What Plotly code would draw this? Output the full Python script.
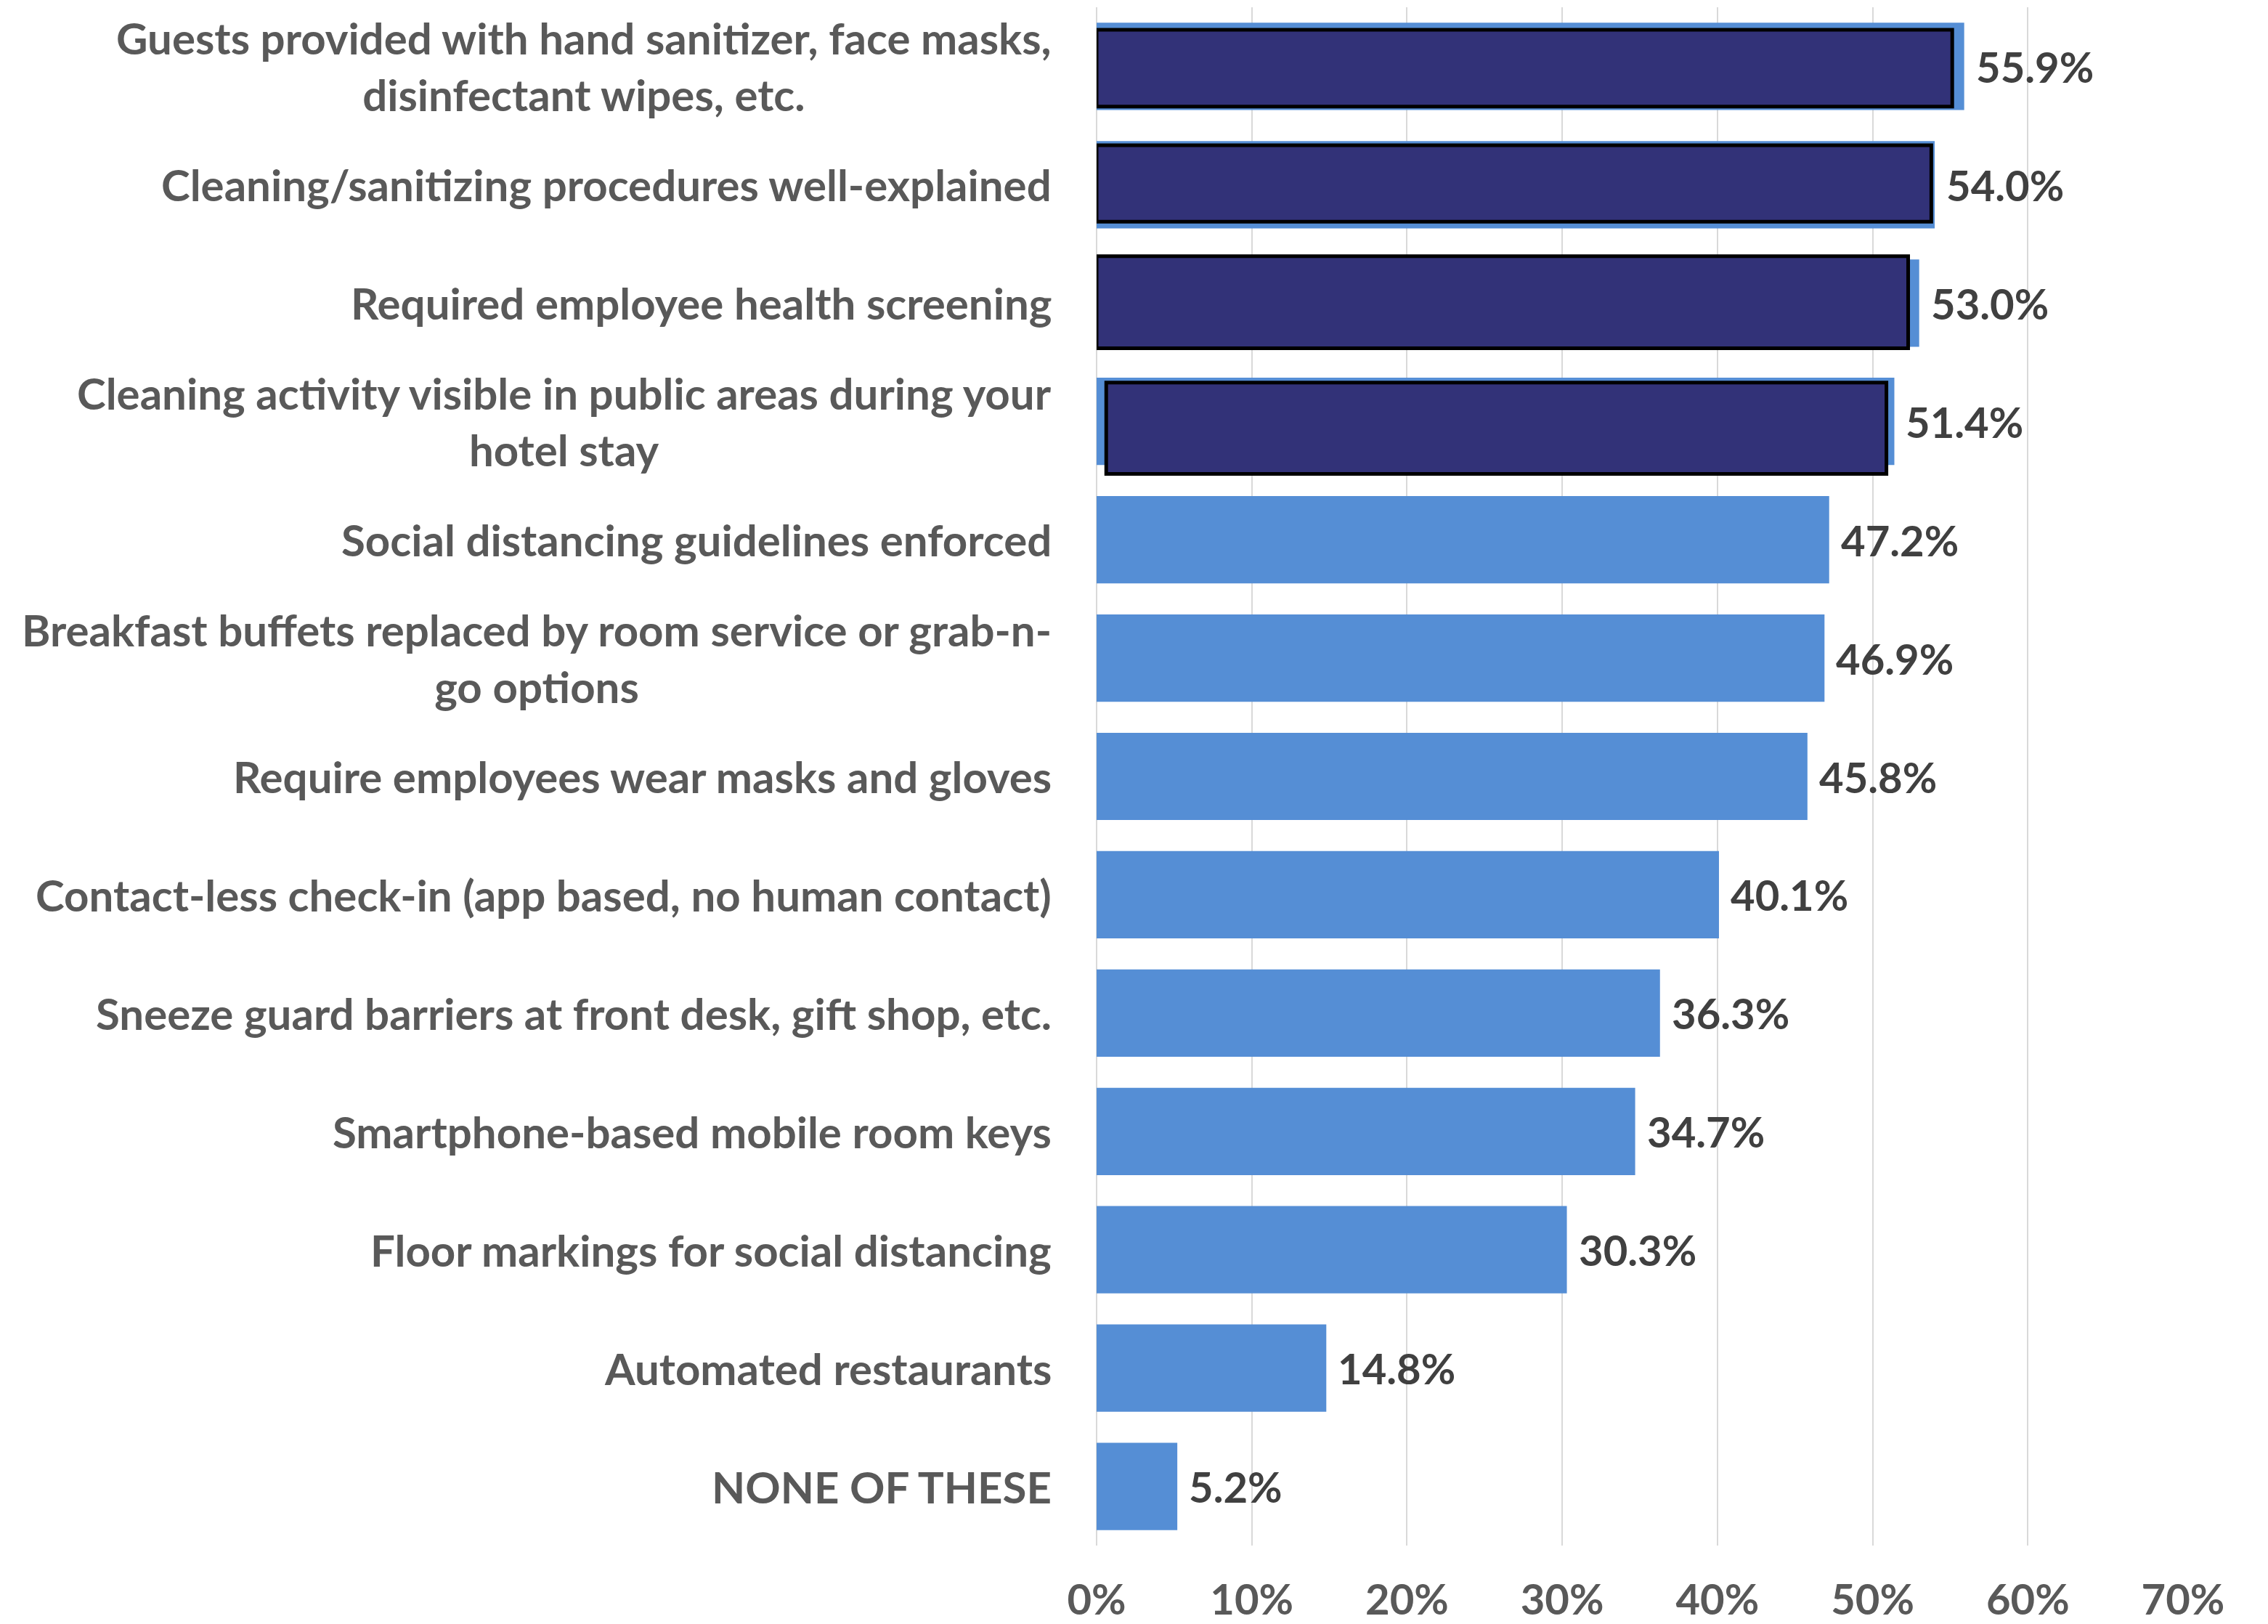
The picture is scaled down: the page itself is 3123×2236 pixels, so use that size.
import plotly.graph_objects as go

# Survey items, top to bottom
categories = [
    "Guests provided with hand sanitizer, face masks,<br>disinfectant wipes, etc.",
    "Cleaning/sanitizing procedures well-explained",
    "Required employee health screening",
    "Cleaning activity visible in public areas during your<br>hotel stay",
    "Social distancing guidelines enforced",
    "Breakfast buffets replaced by room service or grab-n-<br>go options",
    "Require employees wear masks and gloves",
    "Contact-less check-in (app based, no human contact)",
    "Sneeze guard barriers at front desk, gift shop, etc.",
    "Smartphone-based mobile room keys",
    "Floor markings for social distancing",
    "Automated restaurants",
    "NONE OF THESE",
]
values = [55.9, 54.0, 53.0, 51.4, 47.2, 46.9, 45.8, 40.1, 36.3, 34.7, 30.3, 14.8, 5.2]

# Highlight boxes drawn over the top four items (start/end in percent)
highlight_categories = categories[:4]
highlight_start = [0.0, 0.0, 0.0, 0.62]
highlight_end = [55.13, 53.78, 52.29, 50.89]

x_ticks = [0, 10, 20, 30, 40, 50, 60, 70]
x_tick_labels = ["0%", "10%", "20%", "30%", "40%", "50%", "60%", "70%"]

# Styling
BAR_BLUE = "#558ED5"
NAVY = "#323278"
LABEL_GREY = "#595959"
VALUE_GREY = "#404040"
GRID = "#D9D9D9"
FONT = "Lato"
LABEL_SIZE = 60
VALUE_SIZE = 58

fig = go.Figure()

fig.add_trace(go.Bar(
    x=values,
    y=categories,
    orientation="h",
    width=0.738,
    marker=dict(color=BAR_BLUE, line=dict(width=0)),
    hoverinfo="skip",
))

fig.add_trace(go.Bar(
    x=[e - s for s, e in zip(highlight_start, highlight_end)],
    base=highlight_start,
    y=highlight_categories,
    orientation="h",
    width=[0.649, 0.646, 0.778, 0.773],
    offset=[-0.310, -0.334, -0.396, -0.329],
    marker=dict(color=NAVY, line=dict(color="#000000", width=5)),
    hoverinfo="skip",
))

annotations = []
# Category labels, right-aligned to the axis with centered wrapped lines
for cat in categories:
    annotations.append(dict(
        x=0, xref="paper", xanchor="right", xshift=-60,
        y=cat, yref="y", yanchor="middle",
        text=cat, showarrow=False, align="center",
        font=dict(family=FONT, size=LABEL_SIZE, color=LABEL_GREY, weight=700),
    ))
# Value labels at the end of each bar
for cat, v in zip(categories, values):
    annotations.append(dict(
        x=v, xref="x", xanchor="left", xshift=14,
        y=cat, yref="y", yanchor="middle",
        text=f"{v:.1f}%", showarrow=False,
        font=dict(family=FONT, size=VALUE_SIZE, color=VALUE_GREY, weight=700),
    ))

fig.update_layout(
    width=3123,
    height=2236,
    margin=dict(l=1510, r=117, t=10, b=108),
    paper_bgcolor="white",
    plot_bgcolor="white",
    barmode="overlay",
    showlegend=False,
    annotations=annotations,
    xaxis=dict(
        range=[0, 70],
        tickvals=x_ticks,
        ticktext=x_tick_labels,
        showgrid=True,
        gridcolor=GRID,
        gridwidth=2,
        zeroline=True,
        zerolinecolor=GRID,
        zerolinewidth=2,
        showline=False,
        ticks="",
        ticklabelstandoff=36,
        automargin=False,
        tickfont=dict(family=FONT, size=VALUE_SIZE, color=LABEL_GREY, weight=700),
        fixedrange=True,
    ),
    yaxis=dict(
        categoryorder="array",
        categoryarray=categories,
        range=[12.5, -0.5],
        showticklabels=False,
        showgrid=False,
        zeroline=False,
        showline=False,
        ticks="",
        automargin=False,
        fixedrange=True,
    ),
)

fig.write_html("out.html")
